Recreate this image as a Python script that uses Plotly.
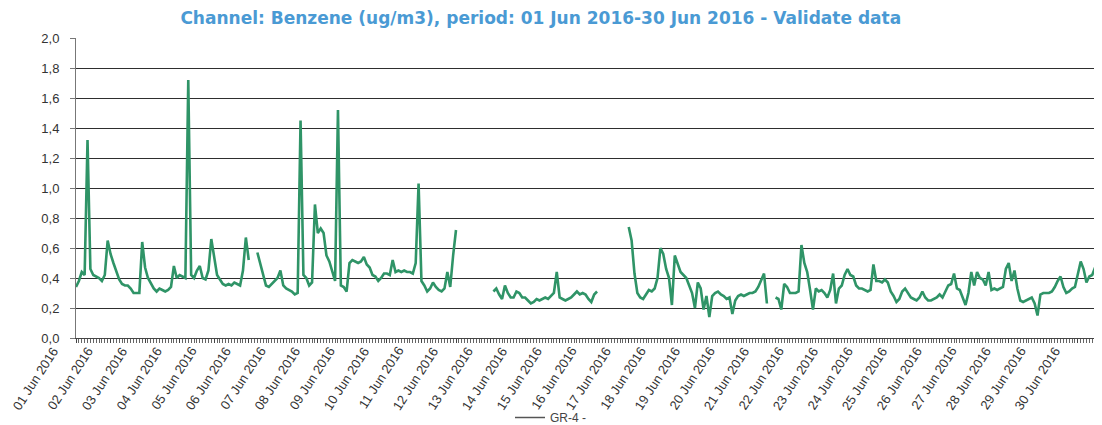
import pandas as pd
import plotly.graph_objects as go

# 2-hourly benzene readings (ug/m3), 12 values per day: 00h,02h,...,22h; None = no data
jun01 = [0.34, 0.38, 0.44, 0.42, 1.32, 0.46, 0.42, 0.41, 0.40, 0.38, 0.42, 0.65]
jun02 = [0.56, 0.50, 0.45, 0.39, 0.36, 0.35, 0.35, 0.33, 0.30, 0.30, 0.30, 0.64]
jun03 = [0.47, 0.40, 0.36, 0.33, 0.31, 0.33, 0.32, 0.31, 0.32, 0.34, 0.48, 0.40]
jun04 = [0.42, 0.41, 0.40, 1.72, 0.42, 0.40, 0.45, 0.48, 0.40, 0.39, 0.45, 0.66]
jun05 = [0.55, 0.42, 0.39, 0.36, 0.35, 0.36, 0.35, 0.37, 0.36, 0.35, 0.45, 0.67]
jun06 = [0.52, None, None, 0.57, 0.50, 0.42, 0.35, 0.34, 0.36, 0.38, 0.40, 0.45]
jun07 = [0.35, 0.33, 0.32, 0.31, 0.29, 0.30, 1.45, 0.42, 0.40, 0.35, 0.37, 0.89]
jun08 = [0.70, 0.73, 0.70, 0.55, 0.51, 0.44, 0.38, 1.52, 0.35, 0.34, 0.31, 0.50]
jun09 = [0.52, 0.51, 0.50, 0.51, 0.54, 0.49, 0.47, 0.42, 0.41, 0.38, 0.40, 0.43]
jun10 = [0.43, 0.42, 0.52, 0.44, 0.45, 0.44, 0.45, 0.44, 0.44, 0.43, 0.50, 1.03]
jun11 = [0.38, 0.35, 0.31, 0.33, 0.37, 0.34, 0.32, 0.31, 0.33, 0.44, 0.34, 0.55]
jun12 = [0.72, None, None, None, None, None, None, None, None, None, None, None]
jun13 = [None, 0.31, 0.33, 0.29, 0.26, 0.35, 0.30, 0.27, 0.27, 0.31, 0.30, 0.27]
jun14 = [0.27, 0.25, 0.23, 0.24, 0.26, 0.25, 0.26, 0.27, 0.26, 0.28, 0.30, 0.44]
jun15 = [0.27, 0.26, 0.25, 0.26, 0.27, 0.29, 0.31, 0.29, 0.30, 0.29, 0.26, 0.24]
jun16 = [0.29, 0.31, None, None, None, None, None, None, None, None, None, None]
jun17 = [0.74, 0.65, 0.43, 0.30, 0.27, 0.26, 0.29, 0.32, 0.31, 0.33, 0.40, 0.60]
jun18 = [0.56, 0.46, 0.40, 0.22, 0.55, 0.50, 0.44, 0.42, 0.40, 0.35, 0.30, 0.20]
jun19 = [0.37, 0.33, 0.19, 0.28, 0.14, 0.28, 0.30, 0.31, 0.29, 0.28, 0.26, 0.27]
jun20 = [0.16, 0.25, 0.28, 0.29, 0.28, 0.29, 0.30, 0.30, 0.31, 0.34, 0.39, 0.43]
jun21 = [0.23, None, None, 0.27, 0.26, 0.19, 0.36, 0.34, 0.30, 0.30, 0.30, 0.31]
jun22 = [0.62, 0.50, 0.44, 0.32, 0.19, 0.33, 0.31, 0.32, 0.30, 0.27, 0.32, 0.43]
jun23 = [0.23, 0.33, 0.35, 0.42, 0.46, 0.42, 0.41, 0.35, 0.33, 0.33, 0.32, 0.31]
jun24 = [0.32, 0.49, 0.38, 0.38, 0.37, 0.39, 0.37, 0.31, 0.28, 0.24, 0.26, 0.31]
jun25 = [0.33, 0.30, 0.27, 0.26, 0.25, 0.27, 0.31, 0.27, 0.25, 0.25, 0.26, 0.27]
jun26 = [0.29, 0.27, 0.31, 0.35, 0.36, 0.43, 0.33, 0.32, 0.27, 0.22, 0.30, 0.44]
jun27 = [0.35, 0.44, 0.40, 0.39, 0.35, 0.44, 0.32, 0.33, 0.32, 0.33, 0.34, 0.46]
jun28 = [0.50, 0.38, 0.45, 0.33, 0.25, 0.24, 0.25, 0.26, 0.27, 0.23, 0.15, 0.29]
jun29 = [0.30, 0.30, 0.30, 0.31, 0.34, 0.38, 0.41, 0.34, 0.30, 0.31, 0.33, 0.34]
jun30 = [0.42, 0.51, 0.46, 0.37, 0.41, 0.42, 0.47, 0.30, 0.26, 0.26, None, None]

days = [jun01, jun02, jun03, jun04, jun05, jun06, jun07, jun08, jun09, jun10,
        jun11, jun12, jun13, jun14, jun15, jun16, jun17, jun18, jun19, jun20,
        jun21, jun22, jun23, jun24, jun25, jun26, jun27, jun28, jun29, jun30]

day_labels = ["%02d Jun 2016" % d for d in range(1, 31)]
y_ticks = [0.0, 0.2, 0.4, 0.6, 0.8, 1.0, 1.2, 1.4, 1.6, 1.8, 2.0]
series_name = "GR-4 -"
title_text = "Channel: Benzene (ug/m3), period: 01 Jun 2016-30 Jun 2016 - Validate data"

values = [v for day in days for v in day]
times = pd.date_range("2016-06-01 00:00", periods=len(values), freq="2h")
day_ticks = pd.date_range("2016-06-01", periods=30, freq="D")

fig = go.Figure()
fig.add_trace(go.Scatter(
    x=times, y=values, mode="lines", connectgaps=False,
    line=dict(color="#2f9467", width=2.6), showlegend=False, name=series_name,
))
# legend entry (drawn in grey as in the original print)
fig.add_trace(go.Scatter(
    x=[None], y=[None], mode="lines", name=series_name,
    line=dict(color="#555555", width=1.5),
))

# rotated day labels, ending a little left of each day tick (as in the original)
for tv, tt in zip(day_ticks, day_labels):
    fig.add_annotation(
        x=tv, xref="x", y=0, yref="paper", text=tt, showarrow=False,
        textangle=-57, xanchor="right", yanchor="top", xshift=-12, yshift=-3,
        font=dict(size=13, color="#333333", family="Liberation Sans, Arial, sans-serif"),
    )

# the page body adds an 8 px offset, so the figure is 8 px smaller each way
fig.update_layout(
    width=1094, height=417,
    margin=dict(l=68, r=0, t=30, b=87, autoexpand=False),
    paper_bgcolor="white", plot_bgcolor="white",
    separators=", ",
    font=dict(family="Liberation Sans, Arial, sans-serif", color="#333333", size=12),
    title=dict(text="<b>" + title_text + "</b>", x=0.487, xref="container",
               y=0.976, yref="container", xanchor="center", yanchor="middle",
               font=dict(family="DejaVu Sans, Verdana, sans-serif", size=17, color="#4a9ad4")),
    legend=dict(orientation="h", x=0.423, y=-0.265, xanchor="left", yanchor="middle",
                font=dict(size=12, color="#444444"), bgcolor="rgba(0,0,0,0)"),
)

fig.update_yaxes(
    range=[0, 2.0], tickvals=y_ticks, tickformat=".1f", automargin=False,
    showgrid=True, gridcolor="#2e2e2e", gridwidth=1,
    showline=True, linecolor="#777777", linewidth=1,
    ticks="outside", ticklen=5, tickcolor="#777777", ticklabelstandoff=8,
    zeroline=False, tickfont=dict(size=13, color="#333333"),
)
fig.update_xaxes(
    range=[pd.Timestamp("2016-06-01 00:00"), pd.Timestamp("2016-06-30 16:48")],
    tickvals=day_ticks, showticklabels=False, automargin=False,
    showgrid=False, showline=True, linecolor="#444444", linewidth=1,
    ticks="outside", ticklen=4, tickcolor="#444444",
    minor=dict(dtick=2 * 3600 * 1000, ticks="outside", ticklen=4, tickcolor="#666666", showgrid=False),
    zeroline=False,
)

fig.write_html("out.html")
